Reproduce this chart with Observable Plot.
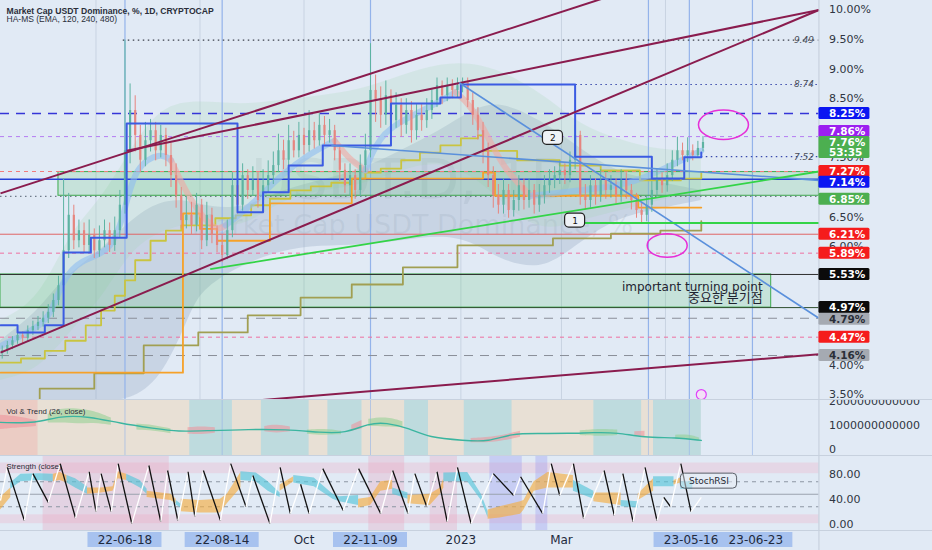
<!DOCTYPE html>
<html>
<head>
<meta charset="utf-8">
<script src="https://cdn.jsdelivr.net/npm/d3@7"></script>
<script src="https://cdn.jsdelivr.net/npm/@observablehq/plot@0.6"></script>
<style>
  html, body { margin: 0; padding: 0; background: #e1eaf5; }
  #chart { position: relative; width: 932px; height: 550px; overflow: hidden; background: #e1eaf5; }
  .pane { position: absolute; left: 0; width: 932px; overflow: hidden; }
  .pane svg { display: block; }
  .sep { position: absolute; left: 0; width: 932px; height: 1px; background: #c7d1de; }
</style>
</head>
<body>
<div id="chart">
  <div class="pane" id="main" style="top:0;height:400px"></div>
  <div class="pane" id="vol" style="top:400px;height:55px"></div>
  <div class="pane" id="str" style="top:455px;height:75px"></div>
  <div class="pane" id="time" style="top:530px;height:20px"></div>
  <div class="sep" style="top:399px"></div>
  <div class="sep" style="top:455px"></div>
  <div class="sep" style="top:530px"></div>
</div>
<script>
// ---------- time helpers (days since 2022-04-06) ----------
const START = Date.UTC(2022, 3, 6);
const D = n => new Date(START + n * 864e5);
const AXIS = 480;      // day at the price-scale border
const RIGHT = 546.6;   // day at the right edge of the window
const W = 932;
const FONT = "DejaVu Sans, sans-serif";

// ---------- price candles (3-day bars, %) ----------
const firstOpen = 4.20;
const closes = [4.24,4.33,4.41,4.50,4.45,4.58,4.65,4.72,4.79,4.89,
 5.09,5.34,5.93,6.53,6.10,6.27,6.02,6.19,5.93,6.10,
 6.27,6.02,6.27,6.70,7.62,8.30,7.88,7.46,7.79,7.96,
 7.62,7.88,7.54,7.20,6.86,6.44,6.53,6.36,6.70,6.10,
 6.53,6.19,6.02,5.85,6.27,7.03,6.70,7.20,6.95,7.12,
 6.78,7.03,7.20,7.37,7.62,7.46,7.79,7.62,7.88,7.71,
 7.96,7.79,8.05,7.88,7.96,7.62,7.29,7.03,7.20,6.95,
 7.37,7.62,8.64,8.47,8.22,8.55,8.13,8.39,8.05,8.30,
 7.96,8.22,8.13,8.30,8.47,8.72,8.55,8.72,8.64,8.72,
 8.77,8.47,8.22,7.96,7.62,7.20,6.86,6.70,6.95,6.61,
 6.78,7.03,6.78,6.95,6.70,6.86,7.03,7.12,7.20,7.29,
 7.20,7.46,7.88,6.86,6.78,7.03,6.86,7.12,6.95,7.03,
 6.86,7.12,6.95,6.78,6.61,6.53,6.70,6.95,7.12,7.03,
 7.20,7.46,7.62,7.54,7.62,7.54,7.66,7.76];
const highs = [4.32,4.40,4.48,4.58,4.56,4.66,4.74,4.82,4.90,5.02,
 5.20,5.50,7.15,6.90,6.70,6.45,6.40,6.45,6.30,6.35,
 6.45,6.40,6.50,6.95,9.49,8.75,8.55,8.05,8.10,8.15,
 8.10,8.05,8.00,7.75,7.40,7.00,6.85,6.75,6.90,6.80,
 6.75,6.65,6.35,6.20,6.45,7.25,7.15,7.40,7.30,7.35,
 7.25,7.30,7.45,7.60,7.90,7.80,8.05,7.95,8.10,8.00,
 8.30,8.10,8.25,8.20,8.15,8.05,7.70,7.40,7.40,7.30,
 7.55,7.90,9.43,8.90,8.70,8.80,8.65,8.60,8.50,8.50,
 8.45,8.40,8.40,8.50,8.65,8.85,8.80,8.85,8.82,8.85,
 8.85,8.85,8.60,8.35,8.10,7.75,7.35,7.05,7.15,7.05,
 6.95,7.20,7.15,7.15,7.05,7.05,7.20,7.30,7.35,7.45,
 7.40,7.60,8.05,7.95,7.05,7.20,7.15,7.30,7.25,7.20,
 7.15,7.30,7.25,7.05,6.90,6.75,6.85,7.10,7.30,7.25,
 7.40,7.62,7.85,7.75,7.84,7.72,7.78,7.86];
const lows = [4.10,4.18,4.26,4.35,4.36,4.38,4.50,4.58,4.64,4.70,
 4.80,5.00,5.25,5.80,5.95,5.98,5.90,5.88,5.80,5.82,
 5.98,5.90,5.92,6.15,6.55,7.40,7.60,7.25,7.35,7.60,
 7.45,7.50,7.35,7.00,6.65,6.30,6.30,6.20,6.25,5.95,
 6.00,6.05,5.90,5.73,5.78,6.15,6.55,6.60,6.80,6.85,
 6.65,6.70,6.90,7.05,7.25,7.30,7.35,7.50,7.50,7.55,
 7.60,7.65,7.70,7.72,7.75,7.45,7.10,6.90,6.85,6.80,
 6.85,7.25,7.50,8.10,8.00,8.05,7.90,8.00,7.85,7.90,
 7.75,7.80,7.95,8.00,8.15,8.35,8.40,8.45,8.50,8.52,
 8.60,8.35,8.05,7.80,7.40,7.00,6.65,6.55,6.55,6.48,
 6.50,6.60,6.62,6.65,6.55,6.58,6.72,6.90,6.98,7.05,
 7.05,7.08,7.30,6.70,6.62,6.65,6.70,6.75,6.80,6.82,
 6.72,6.75,6.80,6.62,6.48,6.40,6.42,6.58,6.85,6.90,
 6.92,7.10,7.35,7.45,7.42,7.45,7.50,7.60];
const candles = closes.map((c, i) => ({date: D(1 + 3 * i), open: i ? closes[i - 1] : firstOpen, close: c, high: highs[i], low: lows[i]}));

// ---------- indicator lines on price pane [day, %] ----------
const blueStep = [[0,4.67],[10,4.55],[26,4.67],[37,5.90],[53,6.15],[74,8.08],[139,6.58],[154,6.92],[169,7.37],[189,7.71],[229,8.42],[258,8.52],[270,8.74],[337,7.52],[382,7.15],[401,7.51],[411,7.59]];
const orangeStep = [[0,3.87],[107,6.56],[117,6.30],[127,6.10],[158,6.73],[206,7.15],[283,7.25],[290,6.86],[374,6.66],[411,6.66]];
const yellowStep = [[0,4.04],[12,4.11],[26,4.24],[38,4.41],[50,4.67],[59,4.92],[67,5.17],[73,5.43],[79,5.77],[88,6.10],[97,6.27],[106,6.36],[126,6.48],[138,6.53],[147,6.70],[158,6.81],[170,6.95],[182,7.02],[194,7.08],[205,7.15],[214,7.25],[223,7.32],[235,7.46],[246,7.59],[258,7.71],[270,7.83],[280,7.88],[283,7.62],[303,7.46],[328,7.37],[352,7.29],[375,7.12],[399,7.15],[411,7.25]];
const oliveStep = [[0,3.30],[23,3.60],[55,3.86],[84,4.33],[116,4.55],[145,4.84],[176,5.14],[206,5.36],[236,5.65],[268,6.02],[324,6.14],[358,6.22],[387,6.27],[411,6.43]];
const emaSegments = [
  {trend: "up",   pts: [[0,4.32],[18,4.58],[29,4.78],[36,5.43],[47,5.79],[65,5.89],[73,6.61],[79,7.37],[94,7.59],[100,7.46]]},
  {trend: "down", pts: [[100,7.46],[111,6.78],[126,6.24],[132,6.36]]},
  {trend: "up",   pts: [[132,6.36],[147,6.69],[164,7.20],[182,7.59],[196,7.79]]},
  {trend: "down", pts: [[196,7.79],[205,7.46],[214,7.29]]},
  {trend: "up",   pts: [[214,7.29],[223,7.96],[246,8.27],[267,8.61]]},
  {trend: "down", pts: [[267,8.61],[276,8.39],[287,7.79],[296,7.29],[311,6.86]]},
  {trend: "up",   pts: [[311,6.86],[340,6.95],[370,7.05],[393,7.37],[411,7.62]]}
];
const cloudGreen = [[0,3.74,4.75],[23,3.91,5.09],[41,4.58,6.27],[59,5.09,6.78],[76,5.93,7.62],[94,6.27,8.39],[117,6.44,8.47],[141,6.27,8.39],[164,6.78,8.47],[188,6.95,8.55],[211,7.03,8.64],[235,7.29,8.89],[258,7.46,9.10],[282,7.12,9.10],[305,6.44,8.81],[323,6.27,8.47],[340,6.44,8.05],[364,6.61,7.79],[387,6.78,7.62],[411,6.95,7.62]];
const cloudBlue = [[0,3.40,4.41],[23,3.40,4.92],[35,3.40,5.43],[59,3.40,5.93],[76,3.40,6.44],[94,3.74,6.78],[110,4.75,6.78],[117,5.26,6.70],[141,5.68,6.61],[164,5.93,6.95],[188,6.02,7.12],[211,6.02,7.29],[235,6.10,7.62],[258,6.19,7.96],[276,6.10,8.30],[293,5.77,8.47],[317,5.60,8.13],[334,5.93,7.79],[358,6.44,7.29],[381,6.61,7.12],[411,6.78,6.95]];

// ---------- drawings [day1, %1, day2, %2] ----------
const maroonTrends = [[0,6.90,370,10.35],[74,7.62,480,10.00],[0,4.21,480,10.00],[150,3.40,480,4.18]];
const blueTrends = [[269,8.77,480,4.79],[194,7.71,480,7.12]];
const greenTrends = [[123,5.62,480,7.27],[337,6.40,480,6.40]];
const zones = [{from: 34, to: 480, lo: 6.86, hi: 7.26}, {from: 0, to: 452, lo: 4.97, hi: 5.53}];
const dottedLevels = [9.49, 8.74, 7.52, 6.85];
const dottedFrom = [72, 270, 411, 0];
const dashedLevels = [8.25, 7.86, 7.27, 5.89, 4.79, 4.47, 4.16];
const solidLevels = [7.14, 6.21, 5.53, 4.97];
const levelNotes = [9.49, 8.74, 7.52];
const markerDays = [73, 130, 217, 380, 404, 441];
const monthDays = [56, 117, 178, 270, 329, 390];
const circledAreas = [{day: 424, value: 8.06}, {day: 391, value: 6.02}];
const waveLabels = [{day: 324, value: 7.84, text: "2"}, {day: 337, value: 6.44, text: "1"}];
const turningNote = [{day: 447, value: 5.31, text: "important turning point"}];
const turningNoteKo = [{day: 447, value: 5.13, text: "중요한 분기점"}];
const alertMark = [{day: 411, value: 3.50}];

// ---------- price scale (ticks that stay visible beside the tags) ----------
const yTicks = [3.5,4,6,6.5,7.5,8.5,9,9.5,10];
const priceTags = [
  {value: 8.25, text: "8.25%", kind: "blue"},
  {value: 7.86, text: "7.86%", kind: "purple"},
  {value: 7.76, text: "7.76%", kind: "green", sub: "53:35"},
  {value: 7.27, text: "7.27%", kind: "red"},
  {value: 7.14, text: "7.14%", kind: "blue"},
  {value: 6.85, text: "6.85%", kind: "green"},
  {value: 6.21, text: "6.21%", kind: "red"},
  {value: 5.89, text: "5.89%", kind: "red"},
  {value: 5.53, text: "5.53%", kind: "black"},
  {value: 4.97, text: "4.97%", kind: "black"},
  {value: 4.79, text: "4.79%", kind: "gray"},
  {value: 4.47, text: "4.47%", kind: "red"},
  {value: 4.16, text: "4.16%", kind: "gray"}
];

// ---------- Vol & Trend pane ----------
const volLine = [[0,1.17],[21,1.13],[35,1.45],[52,1.42],[70,1.13],[90,0.92],[104,0.78],[122,0.83],[146,0.88],[167,0.88],[188,0.75],[202,0.71],[216,1.13],[226,1.17],[240,0.92],[251,0.54],[272,0.42],[286,0.36],[300,0.71],[314,0.71],[334,0.71],[348,0.75],[362,0.75],[377,0.54],[397,0.54],[411,0.42]];
const volBands = [
  {trend: "down", pts: [[0,0.87,1.47],[12,0.95,1.40],[21,1.00,1.25]]},
  {trend: "up",   pts: [[28,1.15,1.50],[35,1.15,1.75],[45,1.10,1.75],[55,1.15,1.65],[65,1.05,1.35]]},
  {trend: "up",   pts: [[80,0.85,1.10],[90,0.82,1.05],[100,0.70,0.90]]},
  {trend: "down", pts: [[110,0.68,0.95],[118,0.65,1.00],[126,0.72,0.95]]},
  {trend: "down", pts: [[155,0.78,1.00],[162,0.70,1.08],[170,0.78,0.98]]},
  {trend: "up",   pts: [[180,0.68,0.85],[190,0.62,0.90],[200,0.66,0.80]]},
  {trend: "down", pts: [[206,0.80,1.05],[212,0.90,1.25]]},
  {trend: "up",   pts: [[216,1.00,1.30],[226,0.98,1.40],[236,0.95,1.20]]},
  {trend: "down", pts: [[276,0.32,0.50],[290,0.32,0.55],[305,0.55,0.80]]},
  {trend: "up",   pts: [[340,0.62,0.82],[352,0.58,0.90],[362,0.62,0.85]]},
  {trend: "down", pts: [[372,0.62,0.78],[378,0.55,0.80]]},
  {trend: "up",   pts: [[396,0.46,0.64],[404,0.46,0.66],[410,0.40,0.52]]}
];
const volBlueStripes = [[111,136],[153,181],[192,212],[237,251],[272,300],[348,376],[383,411]];
const volPinkStripes = [[0,22]];
const volTicks = [0, 1e12, 2e12];

// ---------- Strength pane ----------
const stochTurns = [[0,40],[4,93],[14,8],[19,83],[28,37],[35,99],[44,12],[52,86],[56,22],[59,83],[65,22],[69,99],[77,3],[87,96],[94,6],[98,88],[104,8],[110,86],[114,14],[119,88],[129,8],[135,99],[144,30],[148,80],[158,3],[164,93],[170,19],[176,66],[181,19],[189,91],[201,24],[210,91],[223,19],[230,88],[239,19],[243,83],[250,30],[256,86],[262,6],[268,93],[276,3],[289,83],[301,48],[305,78],[318,19],[323,99],[328,48],[336,99],[342,11],[354,88],[360,16],[365,83],[371,6],[378,93],[385,8],[389,45],[393,30],[399,99],[405,22],[411,45]];
const strengthBands = [
  {trend: "down", pts: [[0,25,45],[6,45,60]]},
  {trend: "up",   pts: [[6,58,68],[12,70,82],[23,72,83],[31,70,82]]},
  {trend: "down", pts: [[31,70,82],[35,72,85],[39,68,80]]},
  {trend: "up",   pts: [[39,68,80],[44,60,75],[51,50,62]]},
  {trend: "down", pts: [[51,50,60],[59,52,60],[66,55,62],[69,75,86],[74,72,82]]},
  {trend: "up",   pts: [[74,72,82],[82,60,72],[86,50,58]]},
  {trend: "down", pts: [[86,45,55],[100,40,50],[103,35,42]]},
  {trend: "up",   pts: [[103,33,40],[106,28,34]]},
  {trend: "down", pts: [[106,22,42],[117,20,40],[129,20,42],[133,35,50],[141,60,85]]},
  {trend: "up",   pts: [[141,72,86],[150,70,84],[157,55,70],[164,45,52]]},
  {trend: "down", pts: [[164,55,65],[172,70,78]]},
  {trend: "up",   pts: [[172,68,80],[184,62,76],[195,42,50],[199,38,46],[210,32,48]]},
  {trend: "down", pts: [[210,28,42],[217,32,45],[223,55,70],[230,58,72]]},
  {trend: "up",   pts: [[230,50,60],[239,42,52]]},
  {trend: "down", pts: [[239,35,48],[252,32,50],[258,50,60],[260,60,75]]},
  {trend: "up",   pts: [[260,70,84],[274,70,85],[282,40,50],[286,12,22]]},
  {trend: "down", pts: [[286,10,25],[293,12,30],[305,18,38],[307,25,40],[313,55,70],[321,60,85],[336,60,80]]},
  {trend: "up",   pts: [[336,55,72],[348,42,55]]},
  {trend: "down", pts: [[348,38,52],[364,32,52]]},
  {trend: "up",   pts: [[364,30,40],[374,28,38]]},
  {trend: "down", pts: [[374,40,50],[383,55,75]]},
  {trend: "up",   pts: [[383,62,78],[395,62,78]]},
  {trend: "down", pts: [[395,65,72],[399,68,76]]},
  {trend: "up",   pts: [[399,58,70],[406,58,70]]}
];
const strPinkStripes = [[25,99],[216,237],[252,268]];
const strPurpleStripes = [[287,306],[314,321]];
const strZonesHigh = [83, 100];
const strZonesLow = [3, 17];
const strDashed = [70, 30];
const strMid = [50];
const strTicks = [0, 40, 80];
const stochLabel = [{day1: 399, day2: 432, lo: 59, hi: 83, text: "StochRSI"}];

// ---------- time axis ----------
const timeLabels = [
  {day: 73, text: "22-06-18", boxed: true},
  {day: 130, text: "22-08-14", boxed: true},
  {day: 178, text: "Oct", boxed: false},
  {day: 217, text: "22-11-09", boxed: true},
  {day: 270, text: "2023", boxed: false},
  {day: 329, text: "Mar", boxed: false},
  {day: 405, text: "23-05-16", boxed: true},
  {day: 443, text: "23-06-23", boxed: true}
];

// ================= rendering =================
const xOpt = {type: "utc", domain: [D(0), D(RIGHT)], axis: null};
const baseStyle = {background: "transparent", fontFamily: FONT, fontSize: "11px"};
const ax = () => D(AXIS);
const seg = (arr) => arr.flatMap((s, k) => s.pts.map(p => ({seg: k, trend: s.trend, day: p[0], a: p[1], b: p[2]})));

const tagFill = {blue: "#0b16f2", purple: "#9b1ff0", green: "#4caf50", red: "#f51c1c", black: "#0b0b0b", gray: "#a5aab2"};
const tagNudge = {"7.86%": -5, "7.14%": 3, "6.85%": 3, "4.79%": 1};
const dottedColor = ["#3a3f4a", "#3949ab", "#3949ab", "#6f7b8a"];
const dashedStyle = {8.25: ["#3535d8", "9,7", 1.5], 7.86: ["#b67cf2", "4,4", 1], 7.27: ["#f07c7c", "4,4", 1], 5.89: ["#ee6fa0", "4,4", 1], 4.79: ["#8a8f99", "9,7", 1], 4.47: ["#ee6fa0", "4,4", 1], 4.16: ["#8a8f99", "9,7", 1]};
const solidStyle = {7.14: ["#2440d8", 1.5], 6.21: ["#e06666", 1], 5.53: ["#2d2d2d", 1], 4.97: ["#2f4f2f", 1]};

const ellipseSym = {draw(ctx, size) {
  const rx = Math.sqrt(size / Math.PI), ry = rx * 0.59, k = 0.5523;
  ctx.moveTo(rx, 0);
  ctx.bezierCurveTo(rx, ry * k, rx * k, ry, 0, ry);
  ctx.bezierCurveTo(-rx * k, ry, -rx, ry * k, -rx, 0);
  ctx.bezierCurveTo(-rx, -ry * k, -rx * k, -ry, 0, -ry);
  ctx.bezierCurveTo(rx * k, -ry, rx, -ry * k, rx, 0);
  ctx.closePath();
}};

const upC = "#5db3a2", dnC = "#e6857f";
const emaRows = seg(emaSegments.map(s => ({trend: s.trend, pts: s.pts.map(p => [p[0], p[1], p[1]])})));

const mainMarks = [
  Plot.text(["USDT.D, 1D"], {frameAnchor: "middle", dx: -54, dy: -20, text: d => d, fontSize: 56, fill: "#6f7a8c", fillOpacity: 0.13}),
  Plot.text(["Market Cap USDT Dominance, %"], {frameAnchor: "middle", dx: -54, dy: 25, text: d => d, fontSize: 27, fill: "#6f7a8c", fillOpacity: 0.13}),
  Plot.ruleX(monthDays, {x: d => D(d), stroke: "#c8d3e2", strokeWidth: 1}),
  Plot.areaY(cloudBlue, {x: d => D(d[0]), y1: d => d[1], y2: d => d[2], fill: "#8fa3bd", fillOpacity: 0.3, curve: "basis"}),
  Plot.areaY(cloudGreen, {x: d => D(d[0]), y1: d => d[1], y2: d => d[2], fill: "#a6d6b3", fillOpacity: 0.22, curve: "basis"}),
  Plot.ruleX(markerDays, {x: d => D(d), stroke: "#93b3ea", strokeWidth: 1.2}),
  Plot.rect(zones, {x1: d => D(d.from), x2: d => D(d.to), y1: "lo", y2: "hi", fill: "#5cc46c", fillOpacity: 0.2, stroke: "#3caa4c", strokeWidth: 1}),
  ...dottedLevels.map((v, i) => Plot.ruleY([v], {x1: () => D(dottedFrom[i]), x2: ax, stroke: dottedColor[i], strokeWidth: 1.2, strokeDasharray: "1.5,3.5"})),
  ...dashedLevels.map(v => Plot.ruleY([v], {x1: () => D(0), x2: ax, stroke: dashedStyle[v][0], strokeDasharray: dashedStyle[v][1], strokeWidth: dashedStyle[v][2]})),
  ...solidLevels.map(v => Plot.ruleY([v], {x1: () => D(0), x2: ax, stroke: solidStyle[v][0], strokeWidth: solidStyle[v][1]})),
  Plot.line(oliveStep, {x: d => D(d[0]), y: d => d[1], curve: "step-after", stroke: "#a19f52", strokeWidth: 1.8}),
  Plot.line(yellowStep, {x: d => D(d[0]), y: d => d[1], curve: "step-after", stroke: "#c9c440", strokeWidth: 1.8}),
  Plot.line(orangeStep, {x: d => D(d[0]), y: d => d[1], curve: "step-after", stroke: "#f6a129", strokeWidth: 1.8}),
  Plot.line(emaRows, {x: d => D(d.day), y: "a", z: "seg", stroke: d => d.trend === "up" ? "#8fbdf0" : "#f0a8a4", strokeWidth: 6, strokeOpacity: 0.6, curve: "basis"}),
  Plot.ruleX(candles, {x: "date", y1: "low", y2: "high", stroke: d => d.close >= d.open ? upC : dnC, strokeWidth: 1}),
  Plot.ruleX(candles, {x: "date", y1: "open", y2: "close", stroke: d => d.close >= d.open ? upC : dnC, strokeWidth: 2.2}),
  Plot.line(blueStep, {x: d => D(d[0]), y: d => d[1], curve: "step-after", stroke: "#3b5be2", strokeWidth: 2}),
  Plot.link(maroonTrends, {x1: d => D(d[0]), y1: d => d[1], x2: d => D(d[2]), y2: d => d[3], stroke: "#8a1c4e", strokeWidth: 2}),
  Plot.link(blueTrends, {x1: d => D(d[0]), y1: d => d[1], x2: d => D(d[2]), y2: d => d[3], stroke: "#5a90dc", strokeWidth: 1.6}),
  Plot.link(greenTrends, {x1: d => D(d[0]), y1: d => d[1], x2: d => D(d[2]), y2: d => d[3], stroke: "#33d447", strokeWidth: 1.8}),
  Plot.dot([circledAreas[0]], {x: d => D(d.day), y: "value", r: 25, symbol: ellipseSym, stroke: "#e62fd8", strokeWidth: 1.5, fill: "none"}),
  Plot.dot([circledAreas[1]], {x: d => D(d.day), y: "value", r: 20, symbol: ellipseSym, stroke: "#e62fd8", strokeWidth: 1.5, fill: "none"}),
  Plot.rect(waveLabels, {x1: d => D(d.day), x2: d => D(d.day), y1: "value", y2: "value", insetLeft: -10, insetRight: -10, insetTop: -7, insetBottom: -7, rx: 4, fill: "#eef2f6", stroke: "#222", strokeWidth: 1.2}),
  Plot.text(waveLabels, {x: d => D(d.day), y: "value", text: "text", fontSize: 9, fill: "#111"}),
  Plot.text(turningNote, {x: d => D(d.day), y: "value", text: "text", textAnchor: "end", fontSize: 12, fill: "#1e2230"}),
  Plot.text(turningNoteKo, {x: d => D(d.day), y: "value", text: "text", textAnchor: "end", fontSize: 13, fill: "#1e2230", fontFamily: "Noto Sans CJK KR"}),
  Plot.dot(alertMark, {x: d => D(d.day), y: "value", r: 5, stroke: "#e040fb", strokeWidth: 1.2, fill: "#f3e0f7"}),
  Plot.ruleX([AXIS], {x: d => D(d), stroke: "#c3ccd9", strokeWidth: 1}),
  Plot.text(levelNotes, {x: ax, y: d => d, text: d => d.toFixed(2), dx: -5, textAnchor: "end", fontSize: 9, fontStyle: "italic", fill: "#4a4f5a"}),
  Plot.text(yTicks, {x: ax, y: d => d, text: d => d.toFixed(2) + "%", dx: 10, textAnchor: "start", fontSize: 11, fill: "#2f3542"}),
  ...priceTags.flatMap(t => {
    const dy = tagNudge[t.text] || 0;
    const txt = t.kind === "gray" ? "#2b2f38" : "#ffffff";
    const marks = [
      Plot.rect([t], {x1: ax, x2: ax, y1: "value", y2: "value", insetRight: -51, insetTop: -6, insetBottom: t.sub ? -16 : -6, dy, fill: tagFill[t.kind], rx: 1.5}),
      Plot.text([t], {x: ax, y: "value", text: "text", dx: 10, dy, textAnchor: "start", fontSize: 10.5, fontWeight: "bold", fill: txt})
    ];
    if (t.sub) marks.push(Plot.text([t], {x: ax, y: "value", text: "sub", dx: 10, dy: dy + 10, textAnchor: "start", fontSize: 10.5, fontWeight: "bold", fill: txt}));
    return marks;
  }),
  Plot.text(["Market Cap USDT Dominance, %, 1D, CRYPTOCAP"], {frameAnchor: "top-left", dx: 6, dy: 7, text: d => d, textAnchor: "start", fontSize: 8.6, fontWeight: "bold", fontFamily: "Liberation Sans", fill: "#2a2e39"}),
  Plot.text(["HA-MS (EMA, 120, 240, 480)"], {frameAnchor: "top-left", dx: 6, dy: 15, text: d => d, textAnchor: "start", fontSize: 8.5, fontFamily: "Liberation Sans", fill: "#2a2e39"})
];

document.getElementById("main").append(Plot.plot({
  width: W, height: 400, margin: 0,
  x: xOpt, y: {domain: [3.40, 10.16], axis: null},
  color: {type: "identity"}, style: baseStyle,
  marks: mainMarks
}));

// ---- Vol & Trend ----
const volRows = seg(volBands);
document.getElementById("vol").append(Plot.plot({
  width: W, height: 55, margin: 0,
  x: xOpt, y: {domain: [-0.208e12, 2.083e12], axis: null},
  color: {type: "identity"}, style: baseStyle,
  marks: [
    Plot.rect([[0, 411]], {x1: d => D(d[0]), x2: d => D(d[1]), fill: "#f7c98a", fillOpacity: 0.3}),
    Plot.rect(volBlueStripes, {x1: d => D(d[0]), x2: d => D(d[1]), fill: "#6fd0f0", fillOpacity: 0.35}),
    Plot.rect(volPinkStripes, {x1: d => D(d[0]), x2: d => D(d[1]), fill: "#f3a0a0", fillOpacity: 0.3}),
    Plot.ruleX(markerDays, {x: d => D(d), stroke: "#93b3ea", strokeWidth: 1, strokeOpacity: 0.6}),
    Plot.areaY(volRows, {x: d => D(d.day), y1: d => d.a * 1e12, y2: d => d.b * 1e12, z: "seg", fill: d => d.trend === "up" ? "#8fd08f" : "#ef8f99", fillOpacity: 0.55, curve: "basis"}),
    Plot.line(volLine, {x: d => D(d[0]), y: d => d[1] * 1e12, stroke: "#3bb5a0", strokeWidth: 1.4, curve: "basis"}),
    Plot.ruleX([AXIS], {x: d => D(d), stroke: "#c3ccd9"}),
    Plot.text(volTicks, {x: ax, y: d => d, text: d => String(d), dx: 10, dy: -1.5, textAnchor: "start", fontSize: 11, fill: "#2f3542"}),
    Plot.text(["Vol & Trend (26, close)"], {frameAnchor: "top-left", dx: 6, dy: 8, text: d => d, textAnchor: "start", fontSize: 7.8, fontFamily: "Liberation Sans", fill: "#2a2e39"})
  ]
}));

// ---- Strength ----
const strRows = seg(strengthBands);
const stochLinks = stochTurns.slice(1).map((p, i) => ({d1: stochTurns[i][0], v1: stochTurns[i][1], d2: p[0], v2: p[1]}));
document.getElementById("str").append(Plot.plot({
  width: W, height: 75, margin: 0,
  x: xOpt, y: {domain: [-8, 112], axis: null},
  color: {type: "identity"}, style: baseStyle,
  marks: [
    Plot.rect([strZonesHigh, strZonesLow], {x1: () => D(0), x2: ax, y1: d => d[0], y2: d => d[1], fill: "#f2a6c0", fillOpacity: 0.28}),
    Plot.rect(strPinkStripes, {x1: d => D(d[0]), x2: d => D(d[1]), fill: "#eb8fae", fillOpacity: 0.25}),
    Plot.rect(strPurpleStripes, {x1: d => D(d[0]), x2: d => D(d[1]), fill: "#8a8cf0", fillOpacity: 0.3}),
    Plot.ruleY(strDashed, {x1: () => D(0), x2: ax, stroke: "#8d96a3", strokeDasharray: "4,4"}),
    Plot.ruleY(strMid, {x1: () => D(0), x2: ax, stroke: "#9aa3ae"}),
    Plot.areaY(strRows, {x: d => D(d.day), y1: "a", y2: "b", z: "seg", fill: d => d.trend === "up" ? "#56c5d8" : "#f4ad42", fillOpacity: 0.65}),
    Plot.link(stochLinks, {x1: d => D(d.d1), y1: "v1", x2: d => D(d.d2), y2: "v2", stroke: d => d.v2 < d.v1 ? "#111111" : "#ffffff", strokeWidth: 1.3}),
    Plot.rect(stochLabel, {x1: d => D(d.day1), x2: d => D(d.day2), y1: "lo", y2: "hi", rx: 4, fill: "#e9eef5", fillOpacity: 0.5, stroke: "#5a5f68", strokeWidth: 1}),
    Plot.text(stochLabel, {x: d => D((d.day1 + d.day2) / 2), y: d => (d.lo + d.hi) / 2, text: "text", fontSize: 9, fill: "#2a2e39"}),
    Plot.ruleX([AXIS], {x: d => D(d), stroke: "#c3ccd9"}),
    Plot.text(strTicks, {x: ax, y: d => d, text: d => d.toFixed(2), dx: 10, dy: -1.5, textAnchor: "start", fontSize: 11, fill: "#2f3542"}),
    Plot.text(["Strength (close)"], {frameAnchor: "top-left", dx: 6, dy: 8, text: d => d, textAnchor: "start", fontSize: 7.8, fontFamily: "Liberation Sans", fill: "#2a2e39"})
  ]
}));

// ---- time axis ----
document.getElementById("time").append(Plot.plot({
  width: W, height: 20, margin: 0,
  x: xOpt, y: {domain: [0, 1], axis: null},
  color: {type: "identity"}, style: baseStyle,
  marks: [
    Plot.rect(timeLabels.filter(d => d.boxed), {x1: d => D(d.day), x2: d => D(d.day), insetLeft: -37, insetRight: -37, insetTop: 2, insetBottom: 3, fill: "#a7c2ef"}),
    Plot.ruleX([AXIS], {x: d => D(d), stroke: "#c3ccd9"}),
    Plot.text(timeLabels, {x: d => D(d.day), frameAnchor: "middle", text: "text", fontSize: 12, fill: "#1f2a3d"})
  ]
}));
</script>
</body>
</html>
